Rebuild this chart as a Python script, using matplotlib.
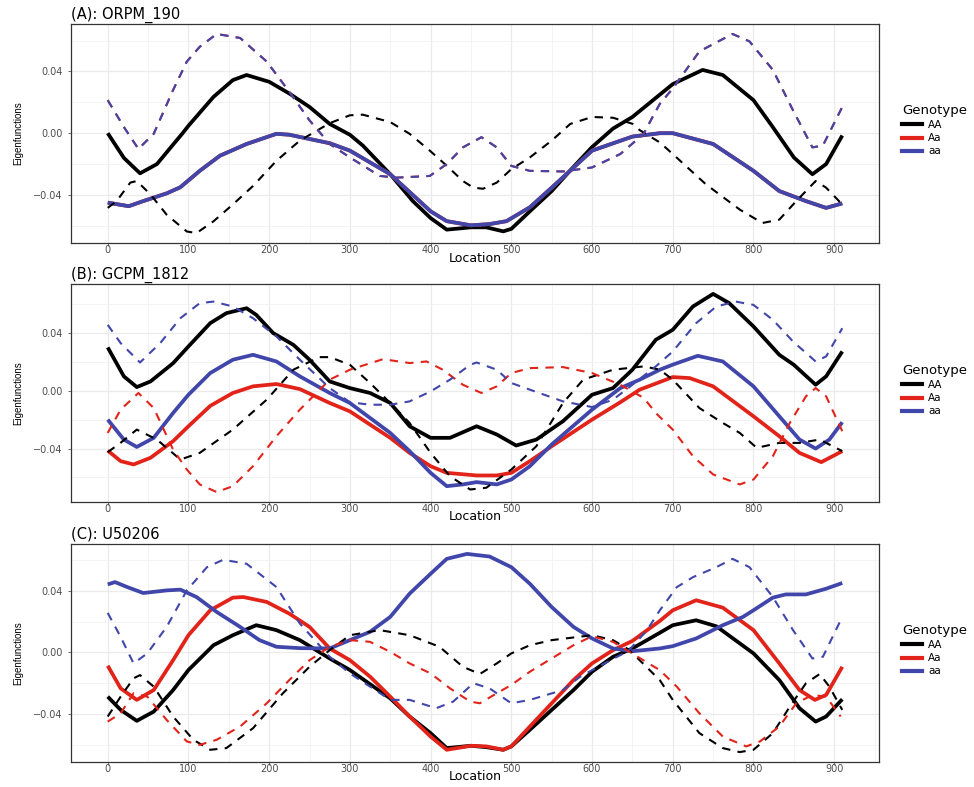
import numpy as np
import matplotlib as mpl

mpl.use('Agg')

import matplotlib.pyplot as plt
from matplotlib import font_manager
from matplotlib.lines import Line2D

# --- данные ---

titles = ['(A): ORPM_190', '(B): GCPM_1812', '(C): U50206']
genotypes = ['AA', 'Aa', 'aa']
y_ticks = [-0.04, 0.00, 0.04]
y_tick_labels = ['\u22120.04', '0.00', '0.04']
x_ticks = [0, 100, 200, 300, 400, 500, 600, 700, 800, 900]

# (A) сплошные
A_AA_x = [0, 20, 40, 61, 80, 92, 100, 131, 155, 172, 200, 225, 250, 275, 300, 316, 350, 378, 400, 420,
          450, 469, 490, 500, 523, 550, 575, 600, 626, 650, 684, 700, 737, 762, 800, 824, 850, 873, 890, 910]
A_AA_y = [0.000, -0.016, -0.026, -0.020, -0.008, -0.0005, 0.0048, 0.0235, 0.0344, 0.0377, 0.0333, 0.0257,
          0.017, 0.006, -0.001, -0.008, -0.0266, -0.044, -0.055, -0.0625, -0.061, -0.061, -0.0636, -0.062,
          -0.0506, -0.0375, -0.023, -0.009, 0.003, 0.0105, 0.025, 0.0318, 0.041, 0.0377, 0.0214, 0.0039,
          -0.0157, -0.0266, -0.020, -0.0015]
A_aa_x = [0, 26, 44, 73, 90, 114, 139, 172, 209, 225, 275, 300, 350, 400, 420, 450, 473, 494, 523, 550,
          600, 650, 684, 700, 750, 800, 832, 865, 890, 910]
A_aa_y = [-0.045, -0.0473, -0.044, -0.039, -0.035, -0.0244, -0.0146, -0.007, -0.0004, -0.001, -0.0065,
          -0.0113, -0.0266, -0.0506, -0.057, -0.0597, -0.0589, -0.057, -0.048, -0.0353, -0.0113, -0.0022,
          0.0, 0.0, -0.007, -0.0244, -0.0375, -0.044, -0.0484, -0.0455]
A_Aa_x = A_aa_x
A_Aa_y = A_aa_y
# (A) пунктир
A_AA_d_x = [0, 11, 28, 36, 53, 73, 98, 110, 131, 155, 180, 209, 238, 275, 300, 316, 350, 374, 399, 420,
            440, 453, 465, 482, 500, 523, 550, 573, 600, 626, 650, 659, 684, 700, 741, 783, 811, 832, 853,
            877, 890, 910]
A_AA_d_y = [-0.0484, -0.044, -0.032, -0.031, -0.0397, -0.0528, -0.0637, -0.0647, -0.0571, -0.0462,
            -0.0342, -0.0179, -0.0048, 0.0065, 0.0116, 0.012, 0.0072, -0.0004, -0.0113, -0.0211, -0.031,
            -0.0353, -0.036, -0.032, -0.0233, -0.0157, -0.0048, 0.006, 0.0105, 0.010, 0.0061, 0.002,
            -0.006, -0.0135, -0.0331, -0.0495, -0.0582, -0.056, -0.044, -0.031, -0.0353, -0.0462]
A_aa_d_x = [0, 20, 38, 57, 81, 98, 114, 135, 164, 197, 225, 250, 275, 300, 337, 358, 399, 420, 440, 463,
            482, 500, 523, 564, 600, 635, 664, 675, 684, 700, 733, 774, 795, 824, 849, 873, 886, 910]
A_aa_d_y = [0.0214, 0.004, -0.0102, -0.0004, 0.028, 0.0464, 0.056, 0.0643, 0.0617, 0.0464, 0.0268,
            0.0083, -0.007, -0.0157, -0.0277, -0.0288, -0.0277, -0.020, -0.0092, -0.0026, -0.0092,
            -0.0212, -0.0244, -0.0248, -0.0222, -0.0135, -0.0004, 0.0105, 0.019, 0.029, 0.053, 0.0643,
            0.0595, 0.041, 0.0148, -0.0092, -0.008, 0.017]
A_Aa_d_x = A_aa_d_x
A_Aa_d_y = A_aa_d_y

# (B) сплошные
B_AA_x = [0, 20, 36, 53, 81, 100, 127, 147, 172, 184, 205, 230, 250, 275, 300, 325, 350, 374, 400, 424,
          457, 482, 506, 531, 564, 600, 626, 650, 679, 700, 725, 750, 770, 800, 832, 850, 877, 890, 910]
B_AA_y = [0.0299, 0.0099, 0.0025, 0.0064, 0.019, 0.0306, 0.0467, 0.0536, 0.057, 0.0524, 0.0398, 0.0317,
          0.0214, 0.0064, 0.0018, -0.0016, -0.0085, -0.0246, -0.0326, -0.0326, -0.0246, -0.0303, -0.0379,
          -0.0338, -0.0211, -0.0028, 0.0018, 0.0145, 0.0352, 0.0421, 0.0582, 0.0669, 0.0605, 0.0444,
          0.0248, 0.0179, 0.0041, 0.0099, 0.0271]
B_Aa_x = [0, 16, 32, 53, 81, 100, 127, 155, 180, 209, 238, 275, 300, 350, 374, 400, 420, 457, 482, 500,
          523, 550, 600, 635, 659, 684, 700, 721, 750, 800, 832, 857, 884, 910]
B_Aa_y = [-0.0414, -0.0487, -0.051, -0.0464, -0.0349, -0.0246, -0.0105, -0.0016, 0.003, 0.0046, 0.0011,
          -0.0085, -0.0143, -0.0326, -0.043, -0.0522, -0.0568, -0.0586, -0.0586, -0.0568, -0.0487,
          -0.0384, -0.020, -0.008, 0.0007, 0.006, 0.0094, 0.0087, 0.003, -0.0177, -0.0315, -0.043,
          -0.0494, -0.0418]
B_aa_x = [0, 20, 36, 57, 81, 100, 127, 155, 180, 209, 238, 275, 300, 350, 374, 400, 420, 440, 457, 482,
          500, 523, 550, 600, 635, 659, 684, 700, 731, 762, 800, 832, 857, 877, 894, 910]
B_aa_y = [-0.020, -0.0338, -0.0389, -0.0326, -0.0154, -0.0028, 0.0122, 0.0214, 0.0248, 0.0202, 0.0099,
          -0.0016, -0.0085, -0.0292, -0.0418, -0.0568, -0.066, -0.0648, -0.0632, -0.0648, -0.0614,
          -0.0522, -0.0372, -0.0131, 0.0018, 0.0076, 0.0145, 0.018, 0.0241, 0.0202, 0.003, -0.0177,
          -0.0338, -0.040, -0.0338, -0.0218]
# (B) пунктир
B_AA_d_x = [0, 16, 36, 61, 90, 114, 155, 197, 230, 262, 275, 300, 325, 350, 374, 400, 424, 449, 469, 500,
            531, 564, 589, 626, 664, 684, 700, 733, 762, 783, 804, 832, 857, 882, 910]
B_AA_d_y = [-0.0425, -0.036, -0.0269, -0.0338, -0.0476, -0.043, -0.0269, -0.0062, 0.0145, 0.0232, 0.0232,
            0.0179, 0.0053, -0.0085, -0.0223, -0.043, -0.0591, -0.0683, -0.0671, -0.0545, -0.0384, -0.0085,
            0.0076, 0.0145, 0.0168, 0.0145, 0.0076, -0.012, -0.0223, -0.0292, -0.0395, -0.0361, -0.0361,
            -0.0338, -0.0418]
B_Aa_d_x = [0, 16, 38, 57, 81, 98, 114, 135, 155, 180, 209, 238, 275, 300, 341, 374, 395, 415, 440, 463,
            482, 500, 523, 564, 600, 635, 664, 680, 700, 725, 750, 783, 800, 824, 845, 865, 877, 890, 910]
B_Aa_d_y = [-0.0292, -0.0131, -0.0016, -0.012, -0.0407, -0.0545, -0.0648, -0.0701, -0.066, -0.0522,
            -0.0315, -0.0131, 0.0076, 0.0145, 0.0218, 0.0191, 0.0202, 0.0145, 0.0041, -0.0016, 0.003,
            0.0122, 0.0156, 0.0163, 0.0122, 0.0041, -0.005, -0.016, -0.0269, -0.0453, -0.0579, -0.0648,
            -0.0614, -0.0453, -0.0223, -0.0039, 0.0018, -0.0039, -0.028]
B_aa_d_x = [0, 16, 40, 65, 90, 114, 131, 155, 180, 209, 238, 275, 300, 325, 350, 374, 400, 424, 449, 457,
            482, 500, 523, 564, 600, 626, 650, 679, 700, 729, 754, 778, 800, 824, 849, 877, 890, 910]
B_aa_d_y = [0.0455, 0.0329, 0.0195, 0.0329, 0.0501, 0.0605, 0.0616, 0.0582, 0.0501, 0.0375, 0.0214,
            0.0018, -0.008, -0.0097, -0.0097, -0.0074, -0.0005, 0.0076, 0.0179, 0.0195, 0.0145, 0.0053,
            0.0007, -0.0074, -0.0113, -0.0062, 0.0041, 0.0168, 0.0271, 0.0467, 0.0582, 0.0616, 0.0593,
            0.049, 0.034, 0.0202, 0.0237, 0.0432]

# (C) сплошные
C_AA_x = [0, 16, 36, 57, 81, 100, 131, 155, 184, 209, 238, 275, 300, 350, 374, 400, 420, 450, 469, 490,
          500, 523, 550, 577, 600, 626, 650, 684, 700, 729, 754, 800, 832, 857, 877, 890, 910]
C_AA_y = [-0.0287, -0.0373, -0.0444, -0.0384, -0.0244, -0.0114, 0.0047, 0.0112, 0.0177, 0.0145, 0.008,
          -0.0039, -0.0114, -0.0298, -0.0416, -0.0524, -0.0621, -0.0606, -0.0615, -0.0632, -0.061,
          -0.0502, -0.0373, -0.0244, -0.0125, -0.0028, 0.0026, 0.0128, 0.0177, 0.0209, 0.017, -0.0006,
          -0.0179, -0.0362, -0.0449, -0.0416, -0.0304]
C_Aa_x = [0, 16, 36, 57, 81, 100, 127, 155, 168, 197, 225, 250, 275, 300, 325, 350, 374, 400, 420, 450,
          469, 490, 500, 523, 550, 577, 600, 626, 650, 684, 700, 729, 762, 800, 832, 857, 876, 890, 910]
C_Aa_y = [-0.0086, -0.0233, -0.0308, -0.0244, -0.005, 0.0112, 0.0274, 0.0356, 0.036, 0.0328, 0.0252,
          0.0166, 0.0026, -0.005, -0.0157, -0.0287, -0.0416, -0.0546, -0.0632, -0.0606, -0.061, -0.0632,
          -0.061, -0.0481, -0.033, -0.0179, -0.0071, 0.0015, 0.0075, 0.0205, 0.0274, 0.0339, 0.0291,
          0.0145, -0.0071, -0.0244, -0.0308, -0.0276, -0.0093]
C_aa_x = [0, 9, 24, 44, 73, 90, 110, 135, 164, 188, 209, 238, 275, 300, 325, 350, 374, 400, 420, 445, 473,
          500, 523, 550, 577, 600, 626, 650, 684, 700, 729, 762, 787, 800, 824, 840, 865, 890, 910]
C_aa_y = [0.0442, 0.0457, 0.0425, 0.0386, 0.0403, 0.0408, 0.036, 0.0263, 0.0166, 0.008, 0.0037, 0.0028,
          0.0026, 0.008, 0.0134, 0.0231, 0.0382, 0.0511, 0.0608, 0.064, 0.0623, 0.0554, 0.0446, 0.0295,
          0.0166, 0.0091, 0.0026, 0.0008, 0.0026, 0.0041, 0.0091, 0.0177, 0.0231, 0.0274, 0.0356, 0.0377,
          0.0377, 0.0414, 0.0451]
# (C) пунктир
C_AA_d_x = [0, 16, 32, 40, 57, 81, 106, 127, 147, 180, 217, 250, 275, 300, 337, 374, 411, 440, 461, 482,
            500, 523, 550, 600, 626, 645, 663, 684, 700, 733, 762, 783, 800, 824, 845, 865, 882, 894, 910]
C_AA_d_y = [-0.0416, -0.0287, -0.0168, -0.0147, -0.0222, -0.0416, -0.0567, -0.0632, -0.0621, -0.0492,
            -0.0265, -0.0093, 0.0015, 0.0112, 0.0145, 0.0112, 0.0037, -0.0093, -0.014, -0.0071, -0.0006,
            0.0047, 0.008, 0.0112, 0.008, 0.002, -0.0071, -0.018, -0.0308, -0.0524, -0.0621, -0.0647,
            -0.0632, -0.0524, -0.0352, -0.020, -0.014, -0.0222, -0.0373]
C_Aa_d_x = [0, 16, 32, 49, 73, 98, 114, 135, 164, 197, 225, 250, 275, 300, 325, 350, 374, 400, 424, 449,
            461, 482, 500, 523, 550, 577, 600, 626, 653, 684, 705, 733, 762, 791, 808, 832, 853, 873, 890, 908]
C_Aa_d_y = [-0.0449, -0.0395, -0.0265, -0.0287, -0.0438, -0.0578, -0.060, -0.0567, -0.0481, -0.033,
            -0.0179, -0.005, 0.0037, 0.008, 0.0069, 0.0004, -0.0071, -0.0136, -0.0233, -0.0319, -0.033,
            -0.0265, -0.0211, -0.0125, -0.0039, 0.0047, 0.0105, 0.0069, -0.0017, -0.0115, -0.0222,
            -0.0395, -0.0546, -0.061, -0.0578, -0.0481, -0.033, -0.0276, -0.0287, -0.0416]
C_aa_d_x = [0, 16, 32, 49, 73, 98, 123, 143, 172, 209, 238, 275, 300, 350, 374, 407, 428, 453, 473, 500,
            523, 564, 585, 623, 645, 668, 684, 705, 725, 754, 774, 795, 824, 849, 873, 886, 910]
C_aa_d_y = [0.0257, 0.0101, -0.0071, -0.0006, 0.0166, 0.0403, 0.0554, 0.0602, 0.0576, 0.0425, 0.0188,
            -0.0028, -0.0136, -0.0308, -0.0308, -0.0362, -0.0319, -0.020, -0.0233, -0.033, -0.0308,
            -0.0244, -0.0158, -0.005, 0.001, 0.0144, 0.0274, 0.0424, 0.0489, 0.0554, 0.0608, 0.0554,
            0.036, 0.0145, -0.0039, -0.0028, 0.0231]

panels = [
    [(A_AA_x, A_AA_y), (A_Aa_x, A_Aa_y), (A_aa_x, A_aa_y),
     (A_AA_d_x, A_AA_d_y), (A_Aa_d_x, A_Aa_d_y), (A_aa_d_x, A_aa_d_y)],
    [(B_AA_x, B_AA_y), (B_Aa_x, B_Aa_y), (B_aa_x, B_aa_y),
     (B_AA_d_x, B_AA_d_y), (B_Aa_d_x, B_Aa_d_y), (B_aa_d_x, B_aa_d_y)],
    [(C_AA_x, C_AA_y), (C_Aa_x, C_Aa_y), (C_aa_x, C_aa_y),
     (C_AA_d_x, C_AA_d_y), (C_Aa_d_x, C_Aa_d_y), (C_aa_d_x, C_aa_d_y)],
]

colors = ['#000000', '#e2231a', '#4146aa']

# --- оформление ---

W, H = 974, 787
fig = plt.figure(figsize=(W / 100, H / 100), dpi=100)

names = {f.name for f in font_manager.fontManager.ttflist}
if 'Liberation Sans Narrow' in names:
    ylab_font, ylab_size = 'Liberation Sans Narrow', 7.8
else:
    ylab_font, ylab_size = 'Liberation Sans', 7.0

# положение панелей в пикселях: (верх, низ)
ax_left, ax_right = 71, 879
ax_rows = [(24, 243), (284, 502), (544, 762)]

for k, (top, bot) in enumerate(ax_rows):
    ax = fig.add_axes([ax_left / W, 1 - bot / H, (ax_right - ax_left) / W, (bot - top) / H])

    for i, (xs, ys) in enumerate(panels[k]):
        if i < 3:
            ax.plot(xs, ys, color=colors[i], lw=2.7, solid_capstyle='butt',
                    solid_joinstyle='round', zorder=3 + i)
        else:
            ax.plot(xs, ys, color=colors[i - 3], lw=1.5, ls=(0, (4, 3.5)),
                    dash_capstyle='butt', dash_joinstyle='round', zorder=6 + i)

    ax.margins(x=0.05, y=0.05)
    ax.set_xticks(x_ticks)
    ax.set_xticks([50 + 100 * j for j in range(10)], minor=True)
    ax.set_yticks(y_ticks)
    ax.set_yticklabels(y_tick_labels)
    ax.set_yticks([-0.06, -0.02, 0.02, 0.06], minor=True)
    ax.grid(True, which='major', color='#ebebeb', lw=0.9, zorder=0)
    ax.grid(True, which='minor', color='#f2f2f2', lw=0.6, zorder=0)
    ax.set_axisbelow(True)
    for s in ax.spines.values():
        s.set_color('#333333')
        s.set_linewidth(0.9)
    ax.tick_params(which='major', width=0.5, color='#333333', labelsize=7, labelcolor='#4d4d4d')
    ax.tick_params(axis='x', which='major', length=2, pad=-0.5)
    ax.tick_params(axis='y', which='major', length=2, pad=4)
    ax.tick_params(which='minor', length=0)

    ax.set_title(titles[k], loc='left', fontsize=10.5, pad=4)
    ax.set_xlabel('Location', fontsize=9)
    ax.xaxis.label.set_va('center')
    ax.xaxis.set_label_coords(0.5, -15 / (bot - top))
    ax.set_ylabel('Eigenfunctions', fontsize=ylab_size, family=ylab_font)
    ax.yaxis.set_label_coords((23 - ax_left) / (ax_right - ax_left), 0.5)

    handles = [Line2D([], [], color=c, lw=3) for c in colors]
    leg = ax.legend(handles, genotypes, title='Genotype', loc='upper left',
                    bbox_to_anchor=(902 / W, 1 - (top + 80) / H), bbox_transform=fig.transFigure,
                    frameon=False, fontsize=7.5, title_fontsize=9.5, handlelength=1.9,
                    handletextpad=0.6, labelspacing=0.3, borderpad=0, borderaxespad=0,
                    alignment='left')

fig.savefig('out.png', dpi=100)
